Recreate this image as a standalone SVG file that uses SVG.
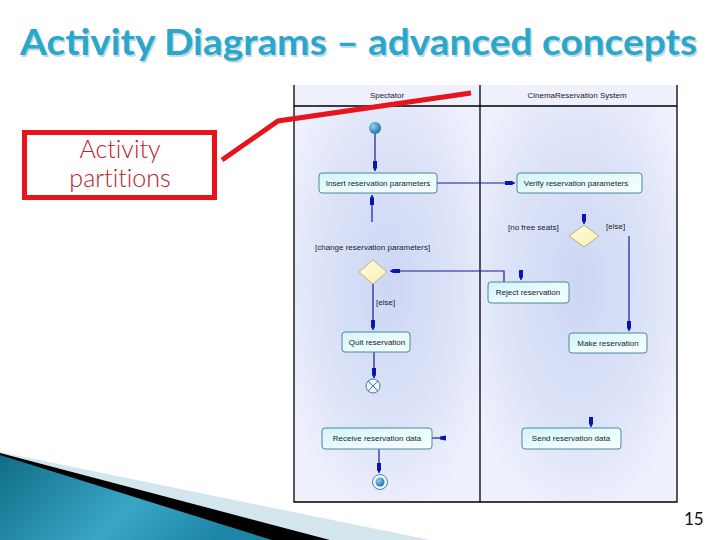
<svg xmlns="http://www.w3.org/2000/svg" width="720" height="540" viewBox="0 0 720 540">
<defs>
<style>
.lbl{font-family:"Liberation Sans",Arial,sans-serif;font-size:8px;fill:#1a1a2a}
.mid{text-anchor:middle}
.act{fill:url(#boxg);stroke:#4d8898;stroke-width:1}
.dec{fill:url(#decg);stroke:#b8b27a;stroke-width:1}
.flow{fill:none;stroke:#1a1a9a;stroke-width:1.2}
.frame{stroke:#000;stroke-width:1.3;fill:none}
.call{font-family:Lato,"Open Sans",sans-serif;font-size:25px;font-weight:300;fill:#b8232a;text-anchor:middle;font-variant-ligatures:none}
</style>
<radialGradient id="laneg" cx="0.5" cy="0.45" r="0.6">
<stop offset="0" stop-color="#cdd7f4"/>
<stop offset="0.6" stop-color="#dce3f8"/>
<stop offset="1" stop-color="#eef0fc"/>
</radialGradient>
<linearGradient id="boxg" x1="0" y1="0" x2="1" y2="1">
<stop offset="0" stop-color="#d2f3f8"/>
<stop offset="0.5" stop-color="#e8fcfd"/>
<stop offset="1" stop-color="#f6ffff"/>
</linearGradient>
<linearGradient id="decg" x1="0" y1="0" x2="1" y2="1">
<stop offset="0" stop-color="#fffbe0"/>
<stop offset="1" stop-color="#f8f0b0"/>
</linearGradient>
<radialGradient id="ballg" cx="0.35" cy="0.35" r="0.7">
<stop offset="0" stop-color="#8fd2ee"/>
<stop offset="1" stop-color="#1f6ea6"/>
</radialGradient>
<linearGradient id="tealg" x1="0" y1="0" x2="1" y2="0.3">
<stop offset="0" stop-color="#0f6d86"/>
<stop offset="0.6" stop-color="#3aa6c6"/>
<stop offset="1" stop-color="#1d86a6"/>
</linearGradient>
<marker id="ah" markerUnits="userSpaceOnUse" markerWidth="10" markerHeight="6" viewBox="0 0 10 6" refX="10" refY="3" orient="auto">
<path d="M0,1 H7 L10,3 L7,5 H0 Z" fill="#0a14b4"/>
</marker>
</defs>

<rect width="720" height="540" fill="#fff"/>

<g id="title">
<text x="21.5" y="56.5" textLength="677" lengthAdjust="spacingAndGlyphs" font-family="Lato,'Open Sans',sans-serif" font-weight="bold" font-size="36" fill="#c9d9e2">Activity Diagrams – advanced concepts</text>
<text x="20" y="55" textLength="677" lengthAdjust="spacingAndGlyphs" font-family="Lato,'Open Sans',sans-serif" font-weight="bold" font-size="36" fill="#2aa7cb">Activity Diagrams – advanced concepts</text>
</g>

<g id="decoration">
<polygon points="0,452 430,540 0,540" fill="#d3e6ee"/>
<polygon points="0,453 330,540 0,540" fill="#000"/>
<polygon points="0,455 272,540 0,540" fill="url(#tealg)"/>
</g>

<g id="lanes">
<rect x="294" y="85" width="383" height="21" fill="#eef0fb"/>
<rect x="294" y="106" width="186" height="396" fill="url(#laneg)"/>
<rect x="480" y="106" width="197" height="396" fill="url(#laneg)"/>
<path class="frame" d="M294,85 V502 H677 V85 M480,85 V502 M294,106 H677"/>
<text class="lbl mid" x="387" y="98">Spectator</text>
<text class="lbl mid" x="577" y="98">CinemaReservation System</text>
</g>

<g id="connectors">
<path class="flow" d="M375,134 V171" marker-end="url(#ah)"/>
<path class="flow" d="M437,183 H515" marker-end="url(#ah)"/>
<path class="flow" d="M372,222 V195" marker-end="url(#ah)"/>
<path class="flow" d="M504,282 V271 H390" marker-end="url(#ah)"/>
<path class="flow" d="M373,284 V330" marker-end="url(#ah)"/>
<path class="flow" d="M374,352 V378" marker-end="url(#ah)"/>
<path class="flow" d="M432,438 H441"/>
<polygon points="440,436.5 446,435.5 446,440.5 440,439.5" fill="#0a14b4"/>
<path class="flow" d="M379,449 V473" marker-end="url(#ah)"/>
<path class="flow" d="M591,418 V427" marker-end="url(#ah)"/>
<path class="flow" d="M584,214 V224" marker-end="url(#ah)"/>
<path class="flow" d="M629,236 V331" marker-end="url(#ah)"/>
<path class="flow" d="M521,271 V280" marker-end="url(#ah)"/>
</g>

<g id="initial"><circle cx="375" cy="128" r="6" fill="url(#ballg)"/></g>

<g id="insert">
<rect class="act" x="319" y="173" width="118" height="20" rx="3"/>
<text class="lbl mid" x="378" y="186">Insert reservation parameters</text>
</g>

<g id="verify">
<rect class="act" x="517" y="173" width="125" height="20" rx="3"/>
<text class="lbl mid" x="576" y="186">Verify reservation parameters</text>
</g>

<g id="decision-left">
<polygon class="dec" points="373,260 387,272 373,284 359,272"/>
<text class="lbl" x="315" y="250">[change reservation parameters]</text>
<text class="lbl" x="376" y="305">[else]</text>
</g>

<g id="decision-right">
<polygon class="dec" points="584,225 599,236 584,247 569,236"/>
<text class="lbl" x="508" y="230">[no free seats]</text>
<text class="lbl" x="606" y="229">[else]</text>
</g>

<g id="reject">
<rect class="act" x="488" y="282" width="81" height="21" rx="3"/>
<text class="lbl mid" x="528" y="295">Reject reservation</text>
</g>

<g id="quit">
<rect class="act" x="342" y="332" width="68" height="20" rx="3"/>
<text class="lbl mid" x="377" y="345">Quit reservation</text>
</g>

<g id="make">
<rect class="act" x="569" y="333" width="78" height="20" rx="3"/>
<text class="lbl mid" x="608" y="346">Make reservation</text>
</g>

<g id="flowfinal">
<circle cx="373" cy="386" r="7" fill="#f4f8ff" stroke="#3a7a98" stroke-width="1"/>
<path d="M368,381 L378,391 M378,381 L368,391" stroke="#3a7a98" stroke-width="1"/>
</g>

<g id="receive">
<rect class="act" x="322" y="428" width="110" height="21" rx="3"/>
<text class="lbl mid" x="377" y="441">Receive reservation data</text>
</g>

<g id="send">
<rect class="act" x="522" y="428" width="99" height="21" rx="3"/>
<text class="lbl mid" x="571" y="441">Send reservation data</text>
</g>

<g id="final">
<circle cx="380" cy="482" r="7.5" fill="#f4f8ff" stroke="#3a8aa8" stroke-width="1"/>
<circle cx="380" cy="482" r="4.5" fill="url(#ballg)"/>
</g>

<g id="callout">
<polyline points="222,160 278,121 471,93" fill="none" stroke="#e8141c" stroke-width="5"/>
<rect x="24.5" y="132.5" width="190" height="65" fill="#fff" stroke="#e8141c" stroke-width="5"/>
<text class="call" x="120" y="158">Activity</text>
<text class="call" x="120" y="187">partitions</text>
</g>

<text x="684" y="525" font-family="Lato,'Open Sans',sans-serif" font-size="17" fill="#111">15</text>
</svg>
